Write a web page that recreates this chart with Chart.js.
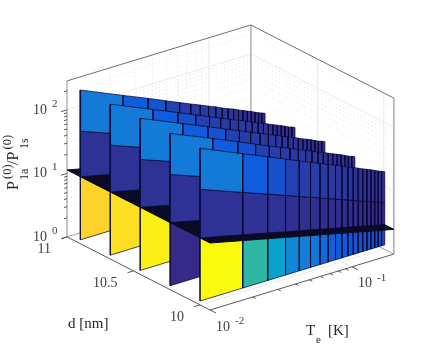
<!DOCTYPE html>
<html>
<head>
<meta charset="utf-8">
<title>P1a/P1s versus Te and d</title>
<script src="https://cdn.jsdelivr.net/npm/chart.js@4"></script>
<style>
    html, body { margin: 0; padding: 0; background: #fff; }
    canvas { display: block; }
</style>
</head>
<body>
<canvas id="chart" width="436" height="348"></canvas>
<script>
// column edges along Te [K]
const teEdges = [0.01, 0.02, 0.03, 0.04, 0.05, 0.06, 0.07, 0.08, 0.09, 0.10,
    0.11, 0.12, 0.13, 0.14, 0.15, 0.16, 0.17, 0.18, 0.19, 0.20];

// sheets from the back one to the front one
const dSheets = [10.9, 10.675, 10.45, 10.225, 10];

const topRatio = [
    [263, 135, 92, 69.3, 55.8, 46.8, 40.5, 35.6, 32, 28.6, 26.1, 24.3, 22.3, 20.7, 19.4, 18.3, 17.1, 16.1, 15.4, 14.7],
    [274, 141, 96, 72.4, 58.3, 48.9, 42.3, 37.1, 33.4, 29.9, 27.3, 25.4, 23.3, 21.6, 20.3, 19.1, 17.9, 16.8, 16.1, 15.3],
    [286, 147, 100, 75.5, 61, 51, 44, 38.7, 34.8, 31.2, 28.4, 26.5, 24.3, 22.5, 21.2, 19.9, 18.6, 17.5, 16.8, 16],
    [289, 149, 101, 76, 61, 51.5, 44.5, 39, 35, 31.5, 28.7, 26.7, 24.5, 22.8, 21.4, 20.1, 18.8, 17.7, 16.9, 16.1],
    [292, 150, 102, 77, 62, 52, 45, 39.5, 35.5, 31.8, 29, 27, 24.8, 23, 21.6, 20.3, 19, 17.9, 17.1, 16.3]
];
const midRatio = [
    [59, 33.2, 23.7, 18.5, 15.3, 13.2, 11.5, 10.4, 9.4, 8.6, 7.9, 7.4, 6.8, 6.4, 6.1, 5.8, 5.5, 5.2, 5, 4.8],
    [62, 34.7, 24.7, 19.4, 16, 13.8, 12, 10.8, 9.8, 8.9, 8.2, 7.7, 7.1, 6.7, 6.4, 6, 5.7, 5.4, 5.2, 5],
    [64.5, 36.2, 25.8, 20.2, 16.7, 14.4, 12.5, 11.3, 10.2, 9.3, 8.6, 8, 7.45, 6.95, 6.65, 6.3, 5.95, 5.65, 5.4, 5.2],
    [65, 36.5, 26, 20.4, 16.8, 14.6, 12.7, 11.4, 10.3, 9.4, 8.7, 8.1, 7.5, 7, 6.7, 6.3, 6, 5.7, 5.45, 5.25],
    [66, 36.9, 26.3, 20.6, 17, 14.7, 12.8, 11.5, 10.4, 9.5, 8.75, 8.2, 7.6, 7.1, 6.8, 6.4, 6.07, 5.75, 5.5, 5.3]
];
// the dark plane where it meets each sheet
const planeRatio = [11.35, 7.93, 6.43, 5.53, 4.92, 4.49, 4.13, 3.86, 3.64, 3.43,
    3.27, 3.13, 3.0, 2.88, 2.79, 2.7, 2.61, 2.52, 2.46, 2.4];
const bottomRatio = 1.15;

// colour values per column, 0..1 on the colormap
const topShade = [0.23, 0.13, 0.10, 0.06, 0.05, 0.045, 0.04, 0.035, 0.03, 0.03,
    0.025, 0.02, 0.02, 0.015, 0.015, 0.01, 0.01, 0.01, 0.01];
const midShade = [0.02, 0.02, 0.02, 0.015, 0.015, 0.015, 0.01, 0.01, 0.01, 0.01,
    0.01, 0.005, 0.005, 0.005, 0.005, 0, 0, 0, 0];
const lowShade = [1, 0.5, 0.37, 0.27, 0.24, 0.22, 0.18, 0.14, 0.13, 0.12,
    0.115, 0.11, 0.10, 0.10, 0.095, 0.09, 0.085, 0.08, 0.08];
const firstLowShade = [0.9, 0.93, 0.97, 0, 1];

// axes
const teLimits = [0.01, 0.197];
const dLimits = [9.925, 11];
const ratioLimits = [1, 286];
const teMajor = [0.01, 0.1];
const teMinor = [0.02, 0.03, 0.04, 0.05, 0.06, 0.07, 0.08, 0.09];
const dTicks = [10, 10.5, 11];
const ratioMajor = [1, 10, 100];
const ratioMinor = [2, 3, 4, 5, 6, 7, 8, 9, 20, 30, 40, 50, 60, 70, 80, 90, 200];
const dTickLabels = ['10', '10.5', '11'];
const ratioExponents = ['0', '1', '2'];
const teExponents = ['-2', '-1'];

const parula = ['#352a87', '#0f5cdd', '#1481d6', '#06a4ca', '#2eb7a4', '#87bf77', '#d1bb59', '#fec832', '#f9fb0e'];

function shade(v) {
    let pos = v * (parula.length - 1);
    let i = Math.min(Math.floor(pos), parula.length - 2);
    let t = pos - i;
    let rgb = [1, 3, 5].map(k => {
        let a = parseInt(parula[i].substr(k, 2), 16);
        let b = parseInt(parula[i + 1].substr(k, 2), 16);
        return Math.round(a + (b - a) * t);
    });
    return 'rgb(' + rgb.join(',') + ')';
}

// orthographic view of the box, gives values for the flat x/y scales
function project(te, d, ratio) {
    let lt = Math.log10(te) + 2;
    let ld = d - dLimits[0];
    let lr = Math.log10(ratio);
    return {
        x: 210 + 142 * lt - 133 * ld,
        y: 310 - 43.2 * lt - 68 * ld - 63.5 * lr
    };
}

let datasets = [];

function addLine(points, color, width, dash) {
    datasets.push({
        data: points, showLine: true, pointRadius: 0, fill: false,
        borderColor: color, borderWidth: width, borderDash: dash || []
    });
}

function addQuad(points, fillColor, edgeColor, width) {
    datasets.push({
        data: points.concat([points[0]]), showLine: true, pointRadius: 0, fill: 'shape',
        backgroundColor: fillColor, borderColor: edgeColor, borderWidth: width
    });
}

const [teLo, teHi] = teLimits;
const [dLo, dHi] = dLimits;
const [rLo, rHi] = ratioLimits;
const gridSolid = '#ebebeb';
const gridDot = '#e3e3e3';
const axisDark = '#5a5a5a';

// walls and floor grid
function wallLines(ratio, color, dash) {
    addLine([project(teLo, dHi, ratio), project(teHi, dHi, ratio), project(teHi, dLo, ratio)], color, 1, dash);
}
ratioMajor.slice(1).forEach(r => wallLines(r, gridSolid));
ratioMinor.forEach(r => wallLines(r, gridDot, [1, 3]));

function teLines(te, color, dash) {
    addLine([project(te, dLo, rLo), project(te, dHi, rLo), project(te, dHi, rHi)], color, 1, dash);
}
teMajor.slice(1).forEach(t => teLines(t, gridSolid));
teMinor.forEach(t => teLines(t, gridDot, [1, 3]));

dTicks.slice(0, 2).forEach(d => {
    addLine([project(teLo, d, rLo), project(teHi, d, rLo), project(teHi, d, rHi)], gridSolid, 1);
});

// box
addLine([project(teLo, dHi, rLo), project(teHi, dHi, rLo), project(teHi, dLo, rLo)], '#a0a0a0', 1);
addLine([project(teHi, dHi, rLo), project(teHi, dHi, rHi)], '#a8a8a8', 1.4);
addLine([project(teLo, dHi, rLo), project(teLo, dHi, rHi)], '#a0a0a0', 1.2);
addLine([project(teHi, dLo, rLo), project(teHi, dLo, rHi)], '#b4b4b4', 1.8);
addLine([project(teLo, dHi, rHi), project(teHi, dHi, rHi), project(teHi, dLo, rHi)], '#707070', 1);
addLine([project(teLo, dHi, rLo), project(teLo, dLo, rLo), project(teHi, dLo, rLo)], axisDark, 1);

// tick marks
function tickAt(p, dx, dy) {
    addLine([p, { x: p.x + dx, y: p.y + dy }], axisDark, 1);
}
ratioMajor.forEach(r => tickAt(project(teLo, dHi, r), -6, 1.8));
ratioMinor.forEach(r => tickAt(project(teLo, dHi, r), -3, 0.9));
teMajor.forEach(t => tickAt(project(t, dLo, rLo), 6, 3));
teMinor.forEach(t => tickAt(project(t, dLo, rLo), 3, 1.5));
dTicks.forEach(d => tickAt(project(teLo, d, rLo), -6, 1.8));

const edgeDark = 'rgba(5,5,45,0.72)';

// part of every sheet below the plane, back to front
dSheets.forEach((d, s) => {
    for (let i = 0; i < teEdges.length - 1; i++) {
        let a = teEdges[i], b = teEdges[i + 1];
        addQuad([project(a, d, bottomRatio), project(b, d, bottomRatio),
            project(b, d, planeRatio[i + 1]), project(a, d, planeRatio[i])],
            shade(i == 0 ? firstLowShade[s] : lowShade[i]), edgeDark, 1);
    }
});

// plane
addQuad([project(teLo, dLo, planeRatio[0]), project(teHi, dLo, 2.45),
    project(teHi, dHi, 2.45), project(teLo, dHi, planeRatio[0])], '#0a0a24', '#0a0a24', 1);

// part of every sheet above the plane, back to front
dSheets.forEach((d, s) => {
    for (let i = 0; i < teEdges.length - 1; i++) {
        let a = teEdges[i], b = teEdges[i + 1];
        addQuad([project(a, d, planeRatio[i]), project(b, d, planeRatio[i + 1]),
            project(b, d, midRatio[s][i + 1]), project(a, d, midRatio[s][i])],
            shade(midShade[i]), edgeDark, 1);
        addQuad([project(a, d, midRatio[s][i]), project(b, d, midRatio[s][i + 1]),
            project(b, d, topRatio[s][i + 1]), project(a, d, topRatio[s][i])],
            shade(topShade[i]), edgeDark, 1);
    }
    // thicker near edge of the sheet
    addLine([project(teEdges[0], d, planeRatio[0]), project(teEdges[0], d, topRatio[s][0])], 'rgba(5,15,70,0.8)', 1.6);
});

// text is placed from the same projection as the ticks
const axisText = {
    id: 'axisText',
    afterDatasetsDraw(chart) {
        const ctx = chart.ctx;
        const sx = chart.scales.x, sy = chart.scales.y;
        const pix = p => ({ x: sx.getPixelForValue(p.x), y: sy.getPixelForValue(p.y) });
        const serif = size => size + 'px "Liberation Serif", serif';

        function put(str, x, y, size, align) {
            ctx.font = serif(size);
            ctx.textAlign = align || 'left';
            ctx.textBaseline = 'middle';
            ctx.fillText(str, x, y);
        }
        function upright(str, x, y, size) {
            ctx.save();
            ctx.translate(x, y);
            ctx.rotate(-Math.PI / 2);
            ctx.font = serif(size);
            ctx.textAlign = 'left';
            ctx.textBaseline = 'alphabetic';
            ctx.fillText(str, 0, 0);
            ctx.restore();
        }

        ctx.save();
        ctx.fillStyle = '#404040';

        ratioMajor.forEach((r, i) => {
            let p = pix(project(teLo, dHi, r));
            put('10', p.x - 20, p.y, 14, 'right');
            put(ratioExponents[i], p.x - 15, p.y - 6, 11);
        });
        dTicks.forEach((d, i) => {
            let p = pix(project(teLo, d, rLo));
            put(dTickLabels[i], p.x - 16, p.y + 12, 14, 'right');
        });
        teMajor.forEach((t, i) => {
            let p = pix(project(t, dLo, rLo));
            put('10', p.x + 20, p.y + 17, 14, 'right');
            put(teExponents[i], p.x + 25, p.y + 11, 11);
        });

        ctx.fillStyle = '#262626';
        put('d [nm]', 68, 324, 15);
        put('T', 306, 331, 15);
        put('e', 316, 340, 11);
        put('[K]', 328, 331, 15);

        upright('P', 18, 190, 16);
        upright('(0)', 10.5, 179, 12.5);
        upright('1a', 27.5, 180, 12);
        upright('/P', 18, 165, 16);
        upright('(0)', 10.5, 149.5, 12.5);
        upright('1s', 27.5, 149, 12);
        ctx.restore();
    }
};

// chart.js paints the first dataset last
datasets.reverse();

const chart = new Chart(document.getElementById('chart').getContext('2d'), {
    type: 'scatter',
    data: { datasets: datasets },
    plugins: [axisText],
    options: {
        responsive: false,
        animation: false,
        layout: { padding: 0 },
        elements: { line: { tension: 0, borderCapStyle: 'butt', borderJoinStyle: 'miter' } },
        plugins: { legend: { display: false }, tooltip: { enabled: false } },
        scales: {
            x: { type: 'linear', display: false, min: 0, max: 436 },
            y: { type: 'linear', display: false, min: 0, max: 348, reverse: true }
        }
    }
});
</script>
</body>
</html>
